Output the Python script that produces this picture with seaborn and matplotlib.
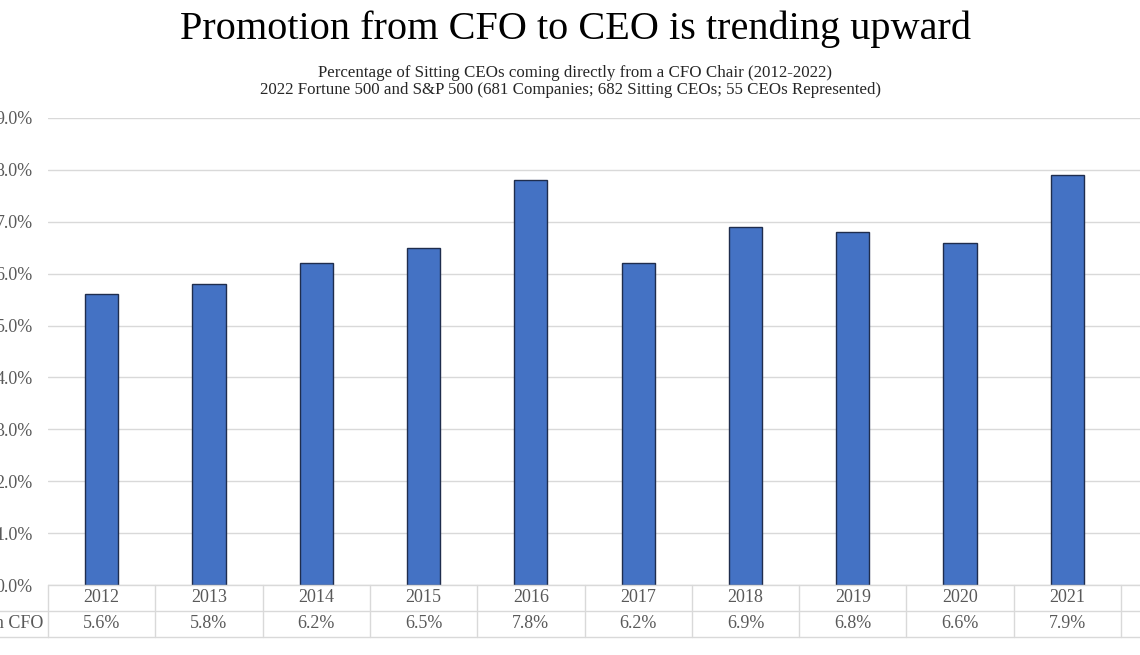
import numpy as np
import pandas as pd
import matplotlib
matplotlib.use('Agg')
import matplotlib.pyplot as plt
import matplotlib.transforms as mtransforms
import seaborn as sns

# data
years = ['2012', '2013', '2014', '2015', '2016', '2017', '2018', '2019', '2020', '2021']
pct_from_cfo = [5.6, 5.8, 6.2, 6.5, 7.8, 6.2, 6.9, 6.8, 6.6, 7.9]
n_slots = 11  # 2012-2022, last column is cut off at the right edge
row_label = 'Position in CFO'

df = pd.DataFrame({'year': years, 'pct': pct_from_cfo})

sns.set_style('white')
plt.rcParams['font.family'] = ['Liberation Serif', 'DejaVu Serif']

W, H = 1140, 655
fig = plt.figure(figsize=(W / 100, H / 100), dpi=100)

# plot area in pixels (extends past the right edge, like the cropped original)
left, right, top, bottom = 48, 48 + n_slots * 107.3, 118, 585
ax = fig.add_axes([left / W, 1 - bottom / H, (right - left) / W, (bottom - top) / H])

sns.barplot(data=df, x='year', y='pct', ax=ax, color='#4472C4', saturation=1,
            width=0.31, edgecolor='#1F2D4D', linewidth=1.0)

ax.set_xlim(-0.5, n_slots - 0.5)
ax.set_ylim(0, 9)
ax.set_yticks(np.arange(0, 10, 1))
ax.set_yticklabels([f'{v:.1f}%' for v in np.arange(0, 10, 1)])
ax.yaxis.grid(True, color='#D9D9D9', linewidth=1)
ax.set_axisbelow(True)
for s in ax.spines.values():
    s.set_visible(False)
ax.tick_params(axis='y', length=0, pad=11, labelsize=13, labelcolor='#595959')
ax.set_xticks([])
ax.set_xlabel('')
ax.set_ylabel('')

# data table under the plot
line_kw = dict(color='#D9D9D9', linewidth=1, clip_on=False)
trans = mtransforms.blended_transform_factory(ax.transData, ax.transAxes)
rh = 26 / (bottom - top)
ax.plot([-0.5, n_slots - 0.5], [0, 0], transform=trans, **line_kw)
ax.plot([-0.5, n_slots - 0.5], [-rh, -rh], transform=trans, **line_kw)
ax.plot([-0.5, n_slots - 0.5], [-2 * rh, -2 * rh], transform=trans, **line_kw)
ax.plot([-0.5 - 1, -0.5], [-rh, -rh], transform=trans, **line_kw)
ax.plot([-0.5 - 1, -0.5], [-2 * rh, -2 * rh], transform=trans, **line_kw)
for i in range(n_slots + 1):
    ax.plot([i - 0.5, i - 0.5], [0, -2 * rh], transform=trans, **line_kw)

for i, (yr, v) in enumerate(zip(years, pct_from_cfo)):
    ax.text(i, -0.5 * rh, yr, transform=trans, ha='center', va='center',
            fontsize=13, color='#595959')
    ax.text(i, -1.5 * rh, f'{v:.1f}%', transform=trans, ha='center', va='center',
            fontsize=13, color='#595959')
ax.text(-0.54, -1.5 * rh, row_label, transform=trans, ha='right', va='center',
        fontsize=13, color='#595959')

# titles
fig.text(575 / W, 1 - 29 / H, 'Promotion from CFO to CEO is trending upward',
         ha='center', va='center', fontsize=29, color='black')
fig.text(575 / W, 1 - 73 / H,
         'Percentage of Sitting CEOs coming directly from a CFO Chair (2012-2022)',
         ha='center', va='center', fontsize=12.2, color='#262626')
fig.text(570 / W, 1 - 90 / H,
         '2022 Fortune 500 and S&P 500 (681 Companies; 682 Sitting CEOs; 55 CEOs Represented)',
         ha='center', va='center', fontsize=12.2, color='#262626')

fig.savefig('out.png', dpi=100)
